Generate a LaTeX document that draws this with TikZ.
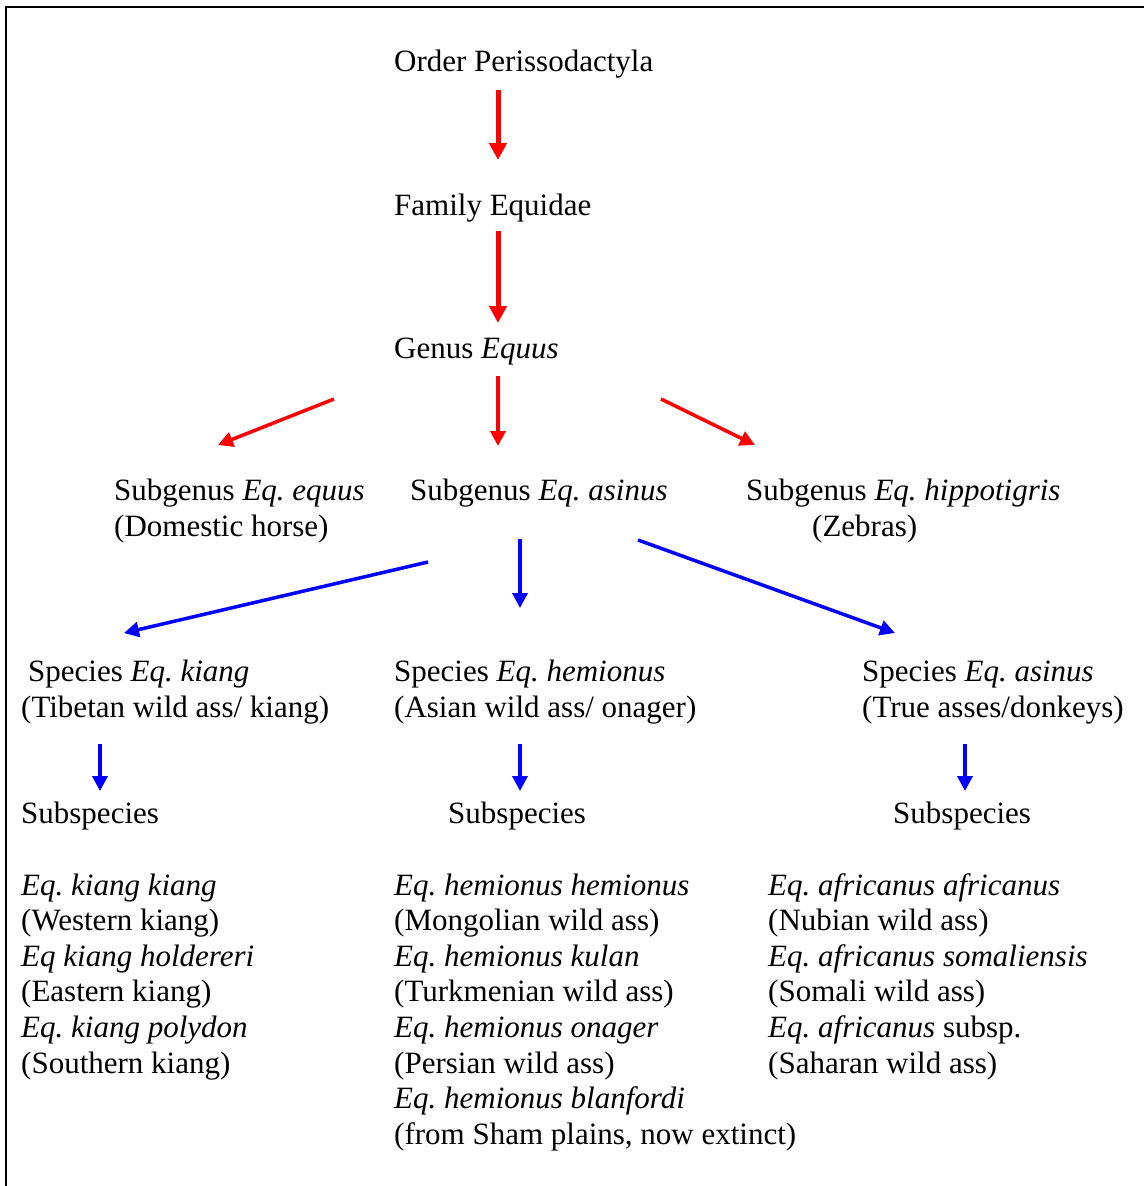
\documentclass[tikz,border=0pt]{standalone}
\usepackage{fontspec}
\setmainfont{Liberation Serif}[ItalicFont={Liberation Serif Italic},BoldFont={Liberation Serif Bold}]
\usetikzlibrary{arrows.meta}
\frenchspacing
\begin{document}
\begin{tikzpicture}[x=1pt,y=-1pt,
  txt/.style={anchor=base west,inner sep=0pt,font=\fontsize{31}{35.6}\selectfont\frenchspacing},
  redA/.style={draw={rgb,255:red,255;green,0;blue,0},line width=5pt,-{Triangle[length=17pt,width=17pt]}},
  redB/.style={draw={rgb,255:red,255;green,0;blue,0},line width=3.5pt,-{Triangle[length=15pt,width=15pt]}},
  blueA/.style={draw={rgb,255:red,0;green,0;blue,255},line width=3.5pt,-{Triangle[length=15pt,width=15pt]}}]
\useasboundingbox (0,0) rectangle (1144,1186);
\draw[line width=2.5pt] (6,1186) -- (6,7) -- (1144,7);

% hierarchy texts
\node[txt] (order) at (394,71) {Order Perissodactyla};
\node[txt] (family) at (394,215) {Family Equidae};
\node[txt] (genus) at (394,358) {Genus \textit{Equus}};

\node[txt] (sgA) at (114,500) {Subgenus \textit{Eq. equus}};
\node[txt] (sgAc) at (114,536) {(Domestic horse)};
\node[txt] (sgB) at (410,500) {Subgenus \textit{Eq. asinus}};
\node[txt] (sgC) at (746,500) {Subgenus \textit{Eq. hippotigris}};
\node[txt] (sgCc) at (812,536) {(Zebras)};

\node[txt] (spA) at (28,681) {Species \textit{Eq. kiang}};
\node[txt] (spAc) at (21,717) {(Tibetan wild ass/ kiang)};
\node[txt] (spB) at (394,681) {Species \textit{Eq. hemionus}};
\node[txt] (spBc) at (394,717) {(Asian wild ass/ onager)};
\node[txt] (spC) at (862,681) {Species \textit{Eq. asinus}};
\node[txt] (spCc) at (862,717) {(True asses/donkeys)};

\node[txt] (ssA) at (21,823) {Subspecies};
\node[txt] (ssB) at (448,823) {Subspecies};
\node[txt] (ssC) at (893,823) {Subspecies};

% left list
\node[txt] (la1) at (21,895) {\textit{Eq. kiang kiang}};
\node[txt] (la2) at (21,930.6) {(Western kiang)};
\node[txt] (la3) at (21,966.2) {\textit{Eq kiang holdereri}};
\node[txt] (la4) at (21,1001.8) {(Eastern kiang)};
\node[txt] (la5) at (21,1037.4) {\textit{Eq. kiang polydon}};
\node[txt] (la6) at (21,1073) {(Southern kiang)};

% middle list
\node[txt] (lb1) at (394,895) {\textit{Eq. hemionus hemionus}};
\node[txt] (lb2) at (394,930.6) {(Mongolian wild ass)};
\node[txt] (lb3) at (394,966.2) {\textit{Eq. hemionus kulan}};
\node[txt] (lb4) at (394,1001.8) {(Turkmenian wild ass)};
\node[txt] (lb5) at (394,1037.4) {\textit{Eq. hemionus onager}};
\node[txt] (lb6) at (394,1073) {(Persian wild ass)};
\node[txt] (lb7) at (394,1108.6) {\textit{Eq. hemionus blanfordi}};
\node[txt] (lb8) at (394,1144.2) {(from Sham plains, now extinct)};

% right list
\node[txt] (lc1) at (768,895) {\textit{Eq. africanus africanus}};
\node[txt] (lc2) at (768,930.6) {(Nubian wild ass)};
\node[txt] (lc3) at (768,966.2) {\textit{Eq. africanus somaliensis}};
\node[txt] (lc4) at (768,1001.8) {(Somali wild ass)};
\node[txt] (lc5) at (768,1037.4) {\textit{Eq. africanus} subsp.};
\node[txt] (lc6) at (768,1073) {(Saharan wild ass)};

% arrow end points
\coordinate (r1s) at (498,90);   \coordinate (r1e) at (498,160);
\coordinate (r2s) at (498,231);  \coordinate (r2e) at (498,323);
\coordinate (r3s) at (334,399);  \coordinate (r3e) at (218,445);
\coordinate (r4s) at (498,376);  \coordinate (r4e) at (498,446);
\coordinate (r5s) at (661,399);  \coordinate (r5e) at (755,445);
\coordinate (b1s) at (428,562);  \coordinate (b1e) at (124,633);
\coordinate (b2s) at (520,539);  \coordinate (b2e) at (520,608);
\coordinate (b3s) at (638,540);  \coordinate (b3e) at (895,633);
\coordinate (b4s) at (100,744);  \coordinate (b4e) at (100,791);
\coordinate (b5s) at (520,744);  \coordinate (b5e) at (520,791);
\coordinate (b6s) at (965,744);  \coordinate (b6e) at (965,791);

\draw[redA] (r1s) -- (r1e);
\draw[redA] (r2s) -- (r2e);
\draw[redB] (r3s) -- (r3e);
\draw[redB] (r4s) -- (r4e);
\draw[redB] (r5s) -- (r5e);
\draw[blueA] (b1s) -- (b1e);
\draw[blueA] (b2s) -- (b2e);
\draw[blueA] (b3s) -- (b3e);
\draw[blueA] (b4s) -- (b4e);
\draw[blueA] (b5s) -- (b5e);
\draw[blueA] (b6s) -- (b6e);
\end{tikzpicture}
\end{document}
